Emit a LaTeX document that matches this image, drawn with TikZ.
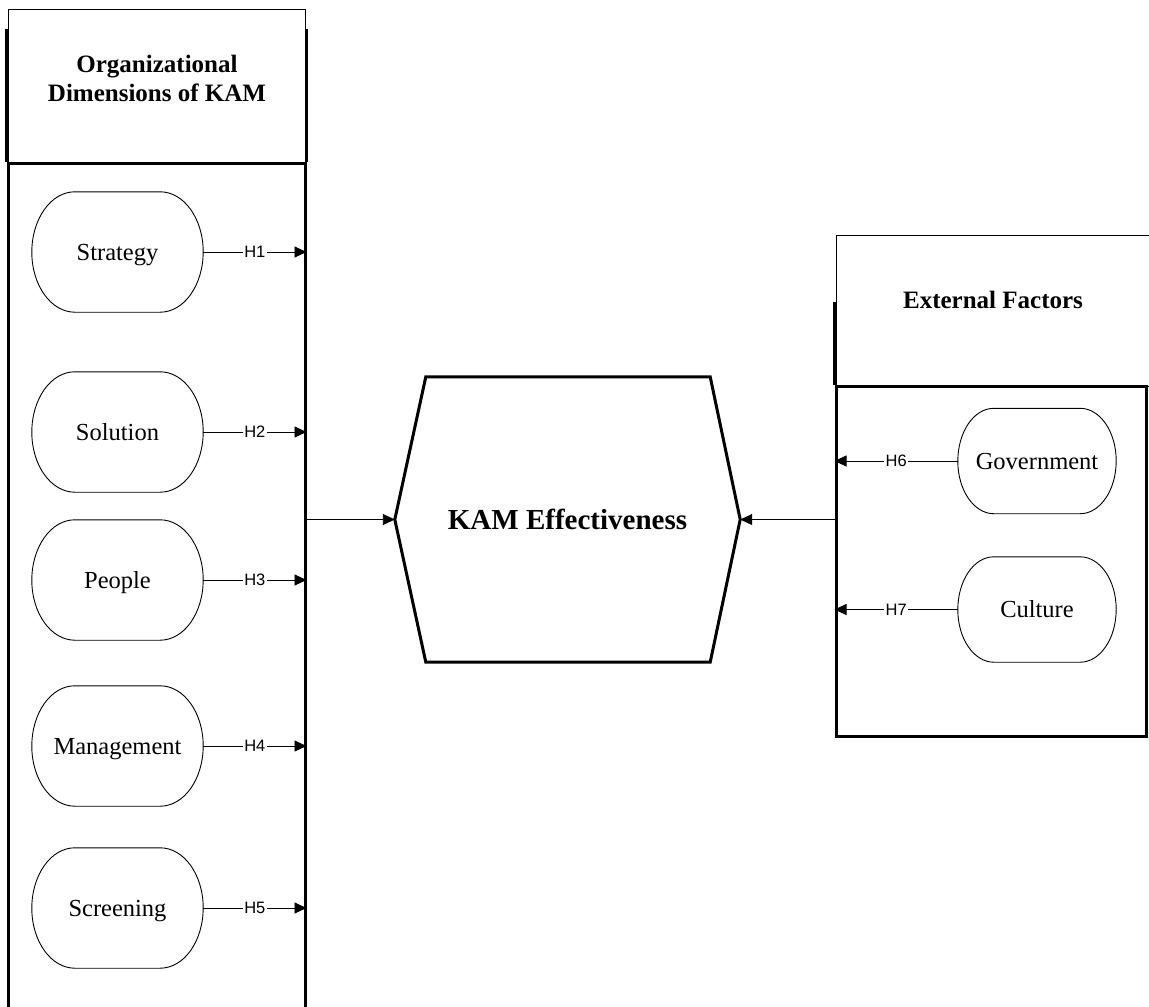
\documentclass[tikz,border=0pt]{standalone}
\usepackage{fontspec}
\setmainfont{Liberation Serif}
\newfontfamily\labelfont{Liberation Sans}
\usetikzlibrary{arrows.meta,calc}

\tikzset{
  frame/.style={inner sep=0pt},
  thinframe/.style={line width=1pt},
  thickframe/.style={line width=3pt},
  pill/.style={inner sep=0pt, minimum width=171pt, minimum height=120pt,
    text height=16.5pt, text depth=0pt, font=\fontsize{24.5}{28}\selectfont},
  smallpill/.style={pill, minimum width=158pt, minimum height=105pt},
  outline/.style={line width=0.9pt},
  link/.style={line width=0.9pt, -{Triangle[length=12pt,width=11pt]}},
  hlabel/.style={fill=white, inner sep=1.5pt, font=\labelfont\fontsize{16.5}{16.5}\selectfont},
  title/.style={inner sep=0pt, align=center, font=\bfseries\fontsize{25}{29}\selectfont},
}

% rounded outline with elliptical corners around a named node
\newcommand\pilloutline[3]{%
  \draw[outline] ($(#1.north west)+(#2,0)$) -- ($(#1.north east)+(-#2,0)$)
    .. controls ($(#1.north east)+(-0.448*#2,0)$) and ($(#1.north east)+(0,0.448*#3)$) .. ($(#1.north east)+(0,#3)$)
    .. controls ($(#1.south east)+(0,-0.448*#3)$) and ($(#1.south east)+(-0.448*#2,0)$) .. ($(#1.south east)+(-#2,0)$)
    -- ($(#1.south west)+(#2,0)$)
    .. controls ($(#1.south west)+(0.448*#2,0)$) and ($(#1.south west)+(0,-0.448*#3)$) .. ($(#1.south west)+(0,-#3)$)
    .. controls ($(#1.north west)+(0,0.448*#3)$) and ($(#1.north west)+(0.448*#2,0)$) .. ($(#1.north west)+(#2,0)$)
    -- cycle;
}

\begin{document}
\begin{tikzpicture}[x=1pt,y=-1pt]
  \useasboundingbox (0,0) rectangle (1149,1007);
  \clip (0,0) rectangle (1149,1007);

  % left group: organizational dimensions
  \node[frame, draw, thinframe, minimum width=297pt, minimum height=154pt] (orghead) at (157,86) {};
  \node[title] (orgtitle) at (157,78) {Organizational\\Dimensions of KAM};
  \node[frame, draw, thickframe, minimum width=297pt, minimum height=852pt] (orgbody) at (156.5,589) {};
  \draw[thickframe] (orgbody.north west) -- ++(0,-133);
  \draw[thickframe] (orgbody.north east) -- ++(0,-133);

  \node[pill] (st) at (117.5,252) {Strategy};
  \node[pill] (so) at (117.5,432) {Solution};
  \node[pill] (pe) at (117.5,580) {People};
  \node[pill] (ma) at (117.5,746) {Management};
  \node[pill] (sc) at (117.5,908) {Screening};
  \foreach \n in {st,so,pe,ma,sc} {\pilloutline{\n}{43}{60}}

  \draw[link] (st.east) -- (st.east -| orgbody.east) node[hlabel, midway] {H1};
  \draw[link] (so.east) -- (so.east -| orgbody.east) node[hlabel, midway] {H2};
  \draw[link] (pe.east) -- (pe.east -| orgbody.east) node[hlabel, midway] {H3};
  \draw[link] (ma.east) -- (ma.east -| orgbody.east) node[hlabel, midway] {H4};
  \draw[link] (sc.east) -- (sc.east -| orgbody.east) node[hlabel, midway] {H5};

  % central outcome
  \node[frame, minimum width=345pt, minimum height=285pt,
        font=\bfseries\fontsize{29}{33}\selectfont] (kam) at (567.5,519.5) {KAM Effectiveness};
  \draw[thickframe, line join=miter]
    ($(kam.north west)+(31,0)$) -- ($(kam.north east)+(-30,0)$) -- (kam.east)
    -- ($(kam.south east)+(-30,0)$) -- ($(kam.south west)+(31,0)$) -- (kam.west) -- cycle;

  % right group: external factors
  \node[frame, draw, thinframe, minimum width=324pt, minimum height=151pt] (exthead) at (998,310.5) {};
  \node[title] (exttitle) at (993,300) {External Factors};
  \node[frame, draw, thickframe, minimum width=310pt, minimum height=350pt] (extbody) at (991,561) {};
  \draw[thickframe] (extbody.north west) -- ++(0,-83);

  \node[smallpill] (go) at (1037,461) {Government};
  \node[smallpill] (cu) at (1037,609.5) {Culture};
  \foreach \n in {go,cu} {\pilloutline{\n}{36}{52.5}}

  \draw[link] (go.west) -- (go.west -| extbody.west) node[hlabel, midway] {H6};
  \draw[link] (cu.west) -- (cu.west -| extbody.west) node[hlabel, midway] {H7};

  % links into the outcome
  \draw[link] (orgbody.east |- kam.west) -- (kam.west);
  \draw[link] (extbody.west |- kam.east) -- (kam.east);
\end{tikzpicture}
\end{document}
